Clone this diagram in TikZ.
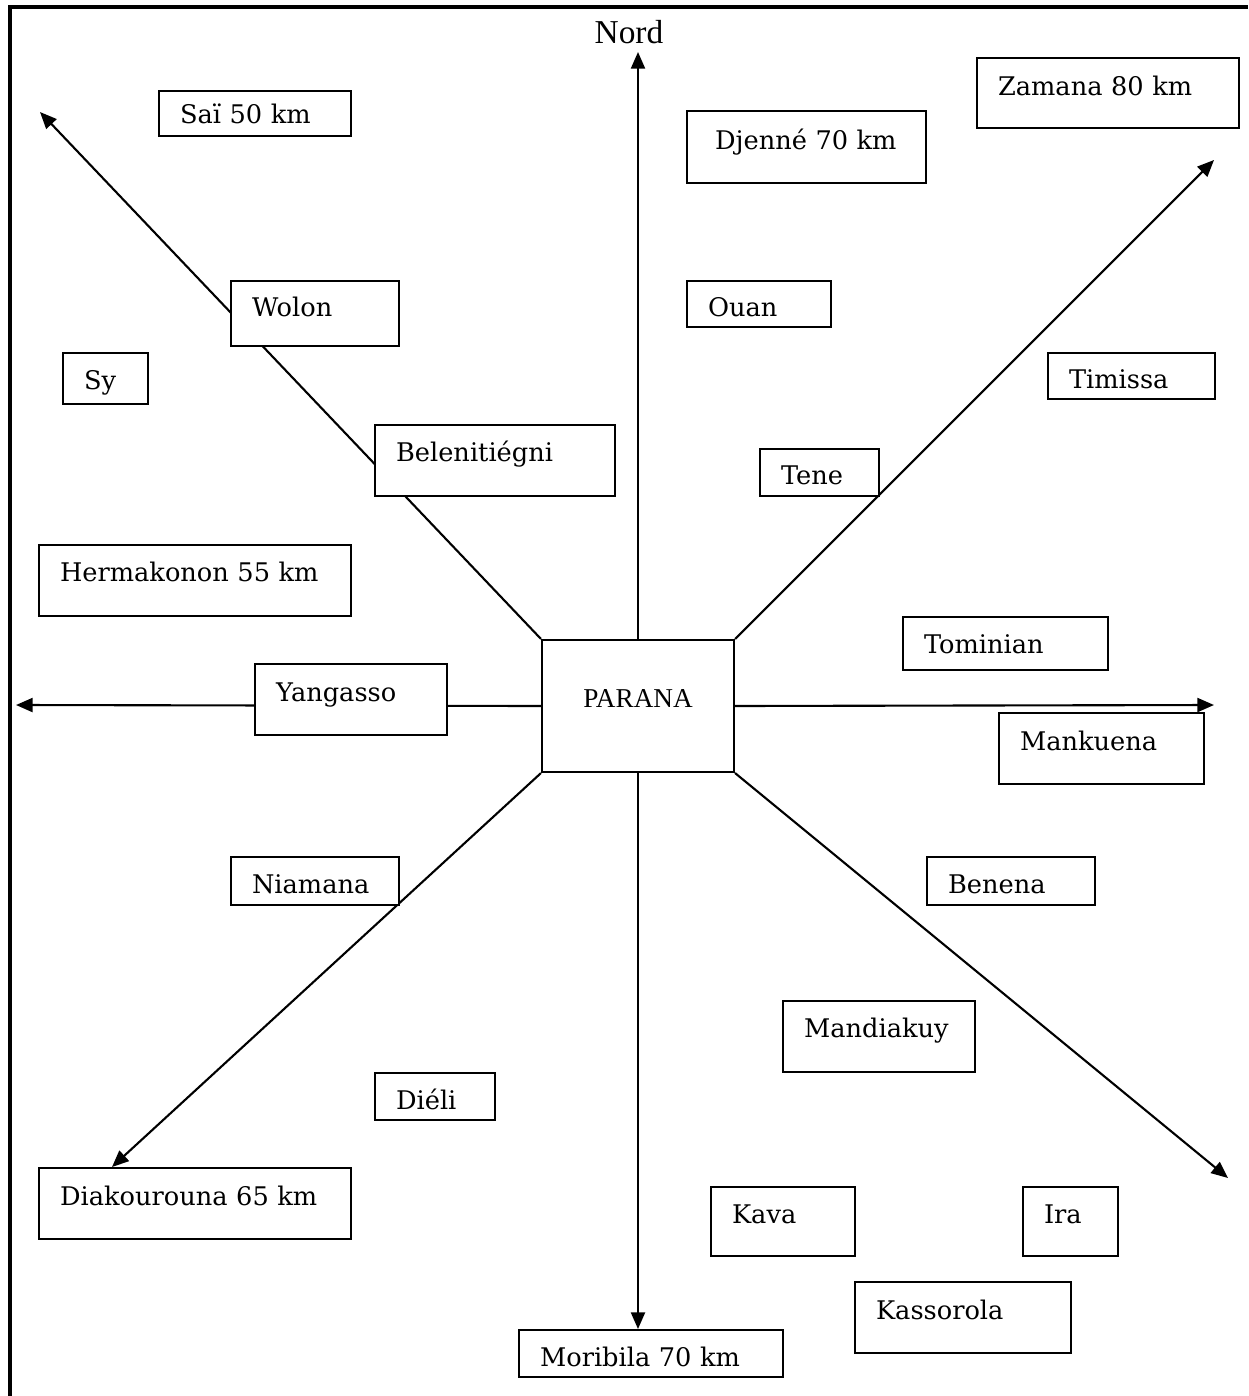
\documentclass[tikz,border=0pt]{standalone}
\usepackage{fontspec}
\setmainfont{DejaVu Serif}
\newfontfamily\timesfont{Liberation Serif}
\usetikzlibrary{arrows.meta}

% box with text set at a given baseline: name, left, top, width, height, baseline, text
\newcommand{\lieu}[7]{%
  \pgfmathsetmacro{\lw}{#4*0.02}%
  \pgfmathsetmacro{\lh}{#6*0.02}%
  \pgfmathsetmacro{\ld}{(#5-#6)*0.02}%
  \node (#1) [lieu, text width=\lw cm, text height=\lh cm, text depth=\ld cm] at (#2,#3) {#7};}

\tikzset{
  lieu/.style={draw, fill=white, line width=1.2pt, anchor=north west, inner sep=0pt,
    align=left, font=\fontsize{14.6}{17}\selectfont, execute at begin node={\hspace*{0.42cm}}},
  conn/.style={line width=1.2pt, -{Triangle[length=9.5pt,width=8pt]}}
}

\begin{document}
\begin{tikzpicture}[x=0.02cm, y=-0.02cm]
    \useasboundingbox (0,0) rectangle (1248,1396);
    \draw[line width=1.8pt] (10,1396) -- (10,7) -- (1248,7);

    \node (nord) [font=\timesfont\fontsize{19}{22}\selectfont] at (629,32) {Nord};
    \node (parana) [draw, line width=1.2pt, minimum width=3.84cm, minimum height=2.64cm,
      text depth=0.28cm, font=\timesfont\fontsize{15.5}{18}\selectfont] at (638,706) {PARANA};

    % arrow ends
    \coordinate (bout-n) at (638,52);
    \coordinate (bout-s) at (638,1329);
    \coordinate (bout-o) at (16,705);
    \coordinate (bout-e) at (1214,705);
    \coordinate (bout-no) at (40,112);
    \coordinate (bout-ne) at (1214,160);
    \coordinate (bout-so) at (112,1167);
    \coordinate (bout-se) at (1228,1178);

    \draw[conn] (parana.north) -- (bout-n);
    \draw[conn] (parana.south) -- (bout-s);
    \draw[conn] (parana.west) -- (bout-o);
    \draw[conn] (parana.east) -- (bout-e);
    \draw[conn] (parana.north west) -- (bout-no);
    \draw[conn] (parana.north east) -- (bout-ne);
    \draw[conn] (parana.south west) -- (bout-so);
    \draw[conn] (parana.south east) -- (bout-se);

    % villages
    \lieu{sai}{158}{90}{192}{45}{32}{Saï 50 km}
    \lieu{djenne}{686}{110}{239}{72}{38}{\hspace*{0.14cm}Djenné 70 km}
    \lieu{zamana}{976}{57}{262}{70}{37}{Zamana 80 km}
    \lieu{wolon}{230}{280}{168}{65}{35}{Wolon}
    \lieu{ouan}{686}{280}{144}{46}{35}{Ouan}
    \lieu{sy}{62}{352}{85}{51}{36}{Sy}
    \lieu{timissa}{1047}{352}{167}{46}{35}{Timissa}
    \lieu{belen}{374}{424}{240}{71}{36}{Belenitiégni}
    \lieu{tene}{759}{448}{119}{47}{35}{Tene}
    \lieu{hermak}{38}{544}{312}{71}{36}{Hermakonon 55 km}
    \lieu{tomin}{902}{616}{205}{53}{36}{Tominian}
    \lieu{yang}{254}{663}{192}{71}{37}{Yangasso}
    \lieu{mank}{998}{712}{205}{71}{37}{Mankuena}
    \lieu{niam}{230}{856}{168}{48}{36}{Niamana}
    \lieu{benena}{926}{856}{168}{48}{36}{Benena}
    \lieu{mandia}{782}{1000}{192}{71}{36}{Mandiakuy}
    \lieu{dieli}{374}{1072}{120}{47}{36}{Diéli}
    \lieu{diak}{38}{1167}{312}{71}{37}{Diakourouna 65 km}
    \lieu{kava}{710}{1186}{144}{69}{36}{Kava}
    \lieu{ira}{1022}{1186}{95}{69}{36}{Ira}
    \lieu{kass}{854}{1281}{216}{71}{37}{Kassorola}
    \lieu{morib}{518}{1329}{264}{47}{36}{Moribila 70 km}
\end{tikzpicture}
\end{document}
